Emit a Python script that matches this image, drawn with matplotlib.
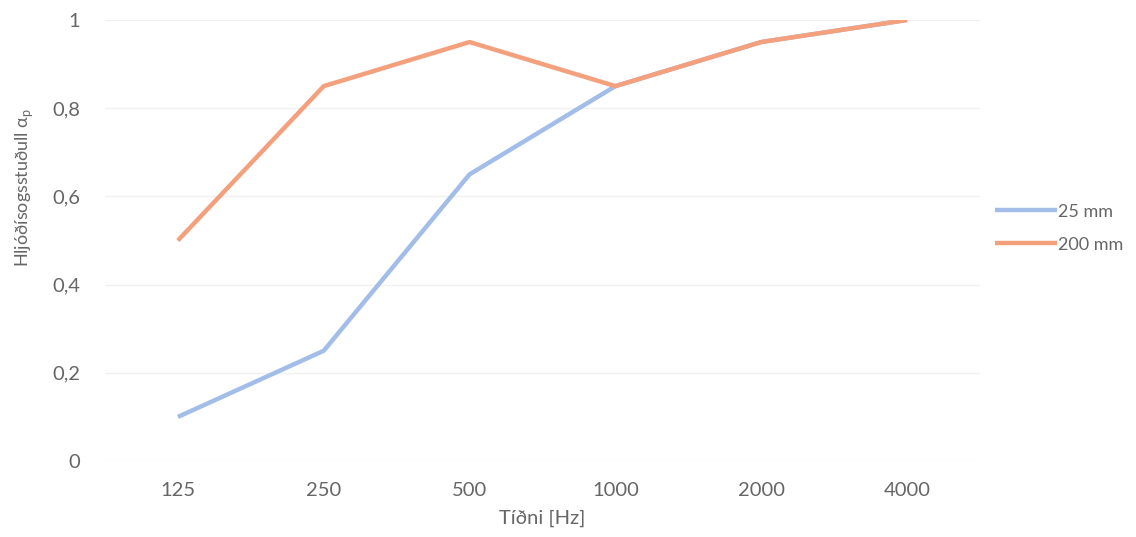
import matplotlib

matplotlib.use("Agg")
import matplotlib.pyplot as plt
from matplotlib.ticker import FuncFormatter

plt.rcParams["font.family"] = ["Lato", "DejaVu Sans"]

freqs = ["125", "250", "500", "1000", "2000", "4000"]
absorb_25mm = [0.10, 0.25, 0.65, 0.85, 0.95, 1.00]
absorb_200mm = [0.50, 0.85, 0.95, 0.85, 0.95, 1.00]

TEXT = "#666666"
BLUE = "#a3bde9"
ORANGE = "#f4a07d"
FS = 14.5

fig = plt.figure(figsize=(11.36, 5.37), dpi=100)
ax = fig.add_axes([0.0924, 0.1415, 0.8627 - 0.0924, 0.9628 - 0.1415])

x = range(len(freqs))
ax.plot(x, absorb_25mm, color=BLUE, lw=3.2, label="25 mm", solid_capstyle="butt")
ax.plot(x, absorb_200mm, color=ORANGE, lw=3.2, label="200 mm", solid_capstyle="butt")

ax.set_xlim(-0.5, len(freqs) - 0.5)
ax.set_ylim(0, 1)
ax.set_xticks(list(x))
ax.set_xticklabels(freqs)
ax.set_yticks([0, 0.2, 0.4, 0.6, 0.8, 1.0])
ax.yaxis.set_major_formatter(FuncFormatter(lambda v, _: f"{v:g}".replace(".", ",")))

ax.grid(axis="y", color="#f1f1f1", lw=1)
ax.set_axisbelow(True)
for s in ax.spines.values():
    s.set_visible(False)
ax.tick_params(axis="both", length=0, labelsize=FS, colors=TEXT)
ax.tick_params(axis="y", pad=18)
ax.tick_params(axis="x", pad=15)

ax.set_xlabel("Tíðni [Hz]", fontsize=FS, color=TEXT, labelpad=8)
ax.set_ylabel(r"Hljóðísogsstuðull α$_\mathregular{p}$", fontsize=13, color=TEXT)
ax.yaxis.set_label_coords(-0.08, 0.62)

fig.legend(loc="center left", bbox_to_anchor=(0.876, 0.575), frameon=False,
           fontsize=13, labelcolor=TEXT, handlelength=3.4, handletextpad=0.1,
           labelspacing=0.95, borderpad=0, borderaxespad=0)

fig.savefig("out.png", dpi=100)
